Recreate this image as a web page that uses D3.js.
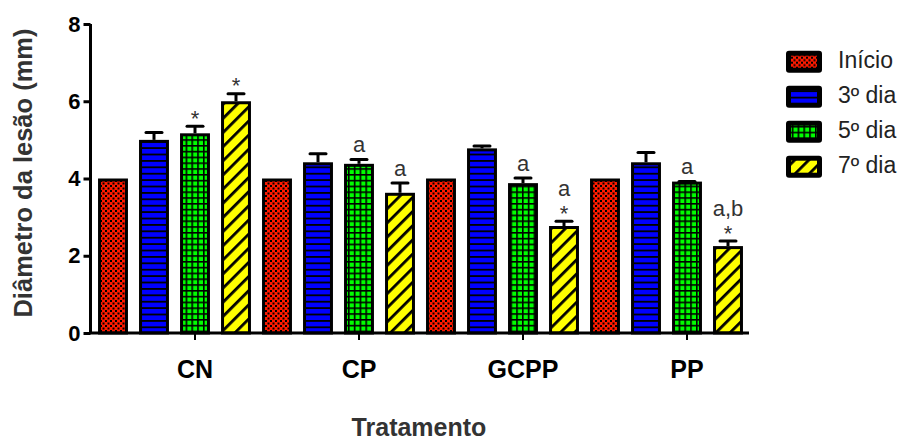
<!DOCTYPE html>
<html>
<head>
<meta charset="utf-8">
<script src="https://cdn.jsdelivr.net/npm/d3@7"></script>
<style>
  html, body { margin: 0; padding: 0; background: #fff; }
  svg { display: block; font-family: "Liberation Sans", Arial, sans-serif; }
</style>
</head>
<body>
<svg id="chart" width="903" height="441"></svg>
<script>
// Treatment groups and measurement days
const categories = ["CN", "CP", "GCPP", "PP"];
const series = ["Início", "3º dia", "5º dia", "7º dia"];

// Mean lesion diameter (mm) per day, one value per treatment
const inicio = [4.0, 4.0, 4.0, 4.0];
const dia3 = [5.0, 4.42, 4.78, 4.42];
const dia5 = [5.17, 4.38, 3.88, 3.92];
const dia7 = [6.0, 3.63, 2.77, 2.25];

// Standard error per day (upper bar only)
const erroInicio = [0, 0, 0, 0];
const erro3 = [0.23, 0.26, 0.10, 0.29];
const erro5 = [0.22, 0.15, 0.17, 0.04];
const erro7 = [0.23, 0.29, 0.16, 0.17];

// Significance marks above bars
const estrela5 = [true, false, false, false];
const estrela7 = [true, false, true, true];
const letras5 = ["", "a", "a", "a"];
const letras7 = ["", "a", "a", "a,b"];

const yTicks = [0, 2, 4, 6, 8];

const values = [inicio, dia3, dia5, dia7];
const errors = [erroInicio, erro3, erro5, erro7];
const stars = [[false, false, false, false], [false, false, false, false], estrela5, estrela7];
const letters = [["", "", "", ""], ["", "", "", ""], letras5, letras7];

const rows = [];
categories.forEach((c, ci) => {
  series.forEach((s, si) => {
    rows.push({ cat: c, ser: s, si, v: values[si][ci], e: errors[si][ci],
                star: stars[si][ci], letter: letters[si][ci] });
  });
});

const svg = d3.select("#chart");
const defs = svg.append("defs");

// Fill patterns
const pRed = defs.append("pattern").attr("id", "p0").attr("patternUnits", "userSpaceOnUse")
  .attr("width", 5).attr("height", 5);
pRed.append("rect").attr("width", 5).attr("height", 5).attr("fill", "#ff1a00");
pRed.append("rect").attr("x", 0).attr("y", 0).attr("width", 2).attr("height", 2).attr("fill", "#000");
pRed.append("rect").attr("x", 2.5).attr("y", 2.5).attr("width", 2).attr("height", 2).attr("fill", "#000");

const pBlue = defs.append("pattern").attr("id", "p1").attr("patternUnits", "userSpaceOnUse")
  .attr("width", 10).attr("height", 6.4);
pBlue.append("rect").attr("width", 10).attr("height", 6.4).attr("fill", "#0000ff");
pBlue.append("rect").attr("y", 0).attr("width", 10).attr("height", 1.8).attr("fill", "#000");

const pGreen = defs.append("pattern").attr("id", "p2").attr("patternUnits", "userSpaceOnUse")
  .attr("width", 5.8).attr("height", 5.8);
pGreen.append("rect").attr("width", 5.8).attr("height", 5.8).attr("fill", "#00ff00");
pGreen.append("rect").attr("width", 5.8).attr("height", 1.6).attr("fill", "#000");
pGreen.append("rect").attr("width", 1.6).attr("height", 5.8).attr("fill", "#000");

const pYellow = defs.append("pattern").attr("id", "p3").attr("patternUnits", "userSpaceOnUse")
  .attr("width", 10).attr("height", 10).attr("patternTransform", "rotate(45)");
pYellow.append("rect").attr("width", 10).attr("height", 10).attr("fill", "#ffff00");
pYellow.append("rect").attr("x", 0).attr("width", 2.8).attr("height", 10).attr("fill", "#000");

// Scales
const y = d3.scaleLinear().domain([0, 8]).range([333, 24]);
const x0 = d3.scaleBand().domain(categories).range([113, 769]).paddingInner(0).paddingOuter(0);
const x1 = d3.scaleBand().domain(series).range([-102.5, 61.5]).paddingInner(0.27).paddingOuter(0.135);
const catCenter = c => x0(c) + x0.bandwidth() / 2;

const axisX = 90.5;

// Bars
const g = svg.append("g");
g.selectAll("rect.bar").data(rows).join("rect")
  .attr("class", "bar")
  .attr("x", d => catCenter(d.cat) + x1(d.ser) + 1.5)
  .attr("width", x1.bandwidth() - 3)
  .attr("y", d => y(d.v) + 1.5)
  .attr("height", d => y(0) - y(d.v) - 1.5)
  .attr("fill", d => `url(#p${d.si})`)
  .attr("stroke", "#000")
  .attr("stroke-width", 3);

// Error bars
const eb = rows.filter(d => d.e > 0);
g.selectAll("line.err").data(eb).join("line")
  .attr("x1", d => catCenter(d.cat) + x1(d.ser) + x1.bandwidth() / 2)
  .attr("x2", d => catCenter(d.cat) + x1(d.ser) + x1.bandwidth() / 2)
  .attr("y1", d => y(d.v))
  .attr("y2", d => y(d.v + d.e) + 1.5)
  .attr("stroke", "#000").attr("stroke-width", 3);
g.selectAll("line.cap").data(eb).join("line")
  .attr("x1", d => catCenter(d.cat) + x1(d.ser) + x1.bandwidth() / 2 - 8)
  .attr("x2", d => catCenter(d.cat) + x1(d.ser) + x1.bandwidth() / 2 + 8)
  .attr("y1", d => y(d.v + d.e) + 1.5)
  .attr("y2", d => y(d.v + d.e) + 1.5)
  .attr("stroke", "#000").attr("stroke-width", 3).attr("stroke-linecap", "round");

// Significance marks
const marks = rows.filter(d => d.star || d.letter);
marks.forEach(d => {
  const cx = catCenter(d.cat) + x1(d.ser) + x1.bandwidth() / 2;
  const top = y(d.v + d.e);
  if (d.star) {
    svg.append("text").attr("x", cx).attr("y", top + 1)
      .attr("text-anchor", "middle").attr("font-size", 22).attr("fill", "#333")
      .text("*");
  }
  if (d.letter) {
    svg.append("text").attr("x", cx).attr("y", d.star ? top - 24 : top - 6)
      .attr("text-anchor", "middle").attr("font-size", 22).attr("fill", "#333")
      .text(d.letter);
  }
});

// Y axis
const yAxis = d3.axisLeft(y).tickValues(yTicks).tickSize(7).tickPadding(3).tickFormat(d3.format("d"));
const ya = svg.append("g").attr("transform", `translate(${axisX},0)`).call(yAxis);
ya.select(".domain").remove();
ya.selectAll(".tick line").attr("stroke", "#000").attr("stroke-width", 3);
ya.selectAll(".tick text").attr("font-size", 22).attr("font-weight", "bold")
  .attr("fill", "#000").attr("font-family", "Liberation Sans, Arial, sans-serif");
svg.append("line").attr("x1", axisX).attr("x2", axisX).attr("y1", y(8)).attr("y2", y(0))
  .attr("stroke", "#000").attr("stroke-width", 3);

// X axis
const xAxis = d3.axisBottom(x0).tickSize(7).tickPadding(20);
const xa = svg.append("g").attr("transform", `translate(0,${y(0)})`).call(xAxis);
xa.select(".domain").remove();
xa.selectAll(".tick line").attr("stroke", "#000").attr("stroke-width", 2);
xa.selectAll(".tick text").attr("font-size", 25).attr("font-weight", "bold")
  .attr("fill", "#000").attr("font-family", "Liberation Sans, Arial, sans-serif");
svg.append("line").attr("x1", axisX - 1.5).attr("x2", 749).attr("y1", y(0)).attr("y2", y(0))
  .attr("stroke", "#000").attr("stroke-width", 3);

// Axis titles
svg.append("text")
  .attr("transform", "translate(32,173) rotate(-90)")
  .attr("text-anchor", "middle").attr("font-size", 25.5).attr("font-weight", "bold")
  .attr("fill", "#333").text("Diâmetro da lesão (mm)");
svg.append("text")
  .attr("x", 419).attr("y", 436)
  .attr("text-anchor", "middle").attr("font-size", 25).attr("font-weight", "bold")
  .attr("fill", "#333").text("Tratamento");

// Legend
const legend = svg.append("g");
const lg = legend.selectAll("g").data(series).join("g")
  .attr("transform", (d, i) => `translate(786,${61.7 + i * 35})`);
lg.append("rect").attr("x", 0).attr("y", -11).attr("width", 36).attr("height", 22)
  .attr("rx", 3).attr("fill", "#000");
lg.append("rect").attr("x", 5).attr("y", -6).attr("width", 26).attr("height", 12)
  .attr("fill", (d, i) => `url(#p${i})`);
lg.append("text").attr("x", 52).attr("y", 6).attr("font-size", 23)
  .attr("fill", "#222").text(d => d);
</script>
</body>
</html>
